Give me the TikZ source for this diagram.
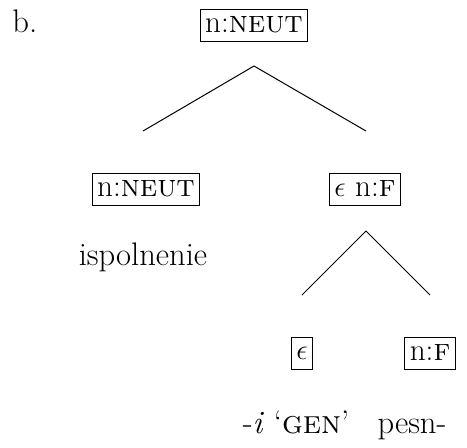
\documentclass[tikz,border=0pt]{standalone}
\begin{document}
\begin{tikzpicture}[x=0.5pt,y=-0.5pt,
  catbox/.style={draw,line width=0.5pt,inner sep=2.5pt,minimum height=16pt,font=\fontsize{15.6}{18}\selectfont},
  word/.style={anchor=base,inner sep=0pt,font=\fontsize{16.3}{19}\selectfont},
  branch/.style={line width=0.5pt}]
\useasboundingbox (0,0) rectangle (467,447);
\node[word,anchor=base west] (lab) at (12,32) {b.};
\node[catbox] (top) at (254,25) {n:\textsc{neut}};
\node[catbox] (l) at (146,189) {n:\textsc{neut}};
\node[catbox] (r) at (365,189) {$\epsilon$ n:\textsc{f}};
\node[catbox] (rl) at (302,353) {$\epsilon$};
\node[catbox] (rr) at (430,353) {n:\textsc{f}};
\node[word] (w1) at (143,265) {ispolnenie};
\node[word] (w2) at (296,433) {-\textit{i} `\textsc{gen}'};
\node[word] (w3) at (412,433) {pesn-};
\coordinate (a1) at (254,66);
\coordinate (a1l) at (143,131);
\coordinate (a1r) at (366,131);
\coordinate (a2) at (366,231);
\coordinate (a2l) at (302,295);
\coordinate (a2r) at (430,295);
\draw[branch] (a1l) -- (a1) -- (a1r);
\draw[branch] (a2l) -- (a2) -- (a2r);
\end{tikzpicture}
\end{document}
